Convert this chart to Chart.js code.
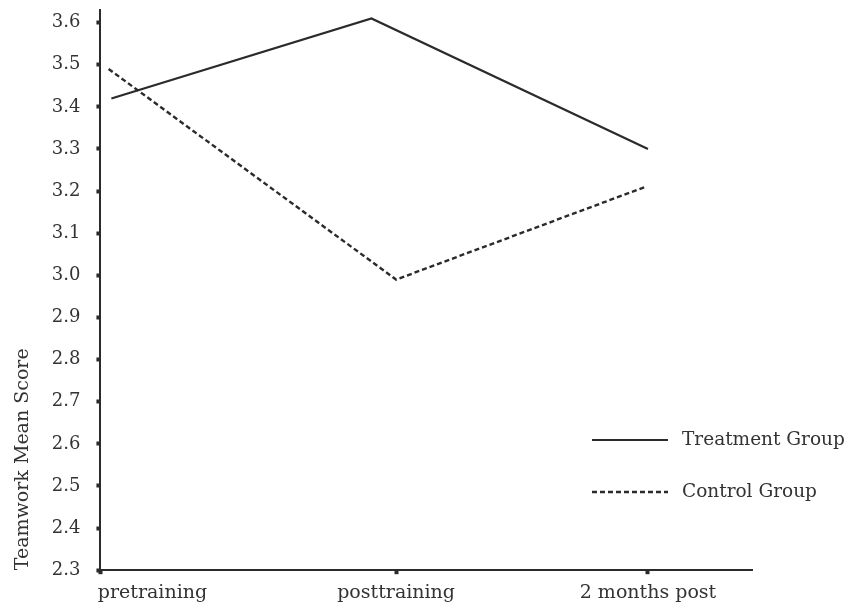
<!DOCTYPE html>
<html>
<head>
  <title>Teamwork Mean Score</title>
  <script src="https://cdn.jsdelivr.net/npm/chart.js"></script>
  <style>
    body {
      margin: 0;
      background: #fff;
    }
    canvas {
      display: block;
    }
  </style>
</head>
<body>
  <canvas id="teamChart" width="856" height="606"></canvas>

  <script>
    // categories and where they sit on the x axis (the drawing is not evenly spaced)
    const categories = ['pretraining', 'posttraining', '2 months post'];
    const categoryX = [0, 1.08, 2];
    const labelX = [0.19, 1.08, 2]; // first label starts flush with the y axis

    const treatmentX = [0.04, 0.99, 2.0];
    const treatment = [3.42, 3.61, 3.30];
    const controlX = [0.03, 1.08, 1.99];
    const control = [3.49, 2.99, 3.21];

    const yTicks = [2.3, 2.4, 2.5, 2.6, 2.7, 2.8, 2.9, 3.0, 3.1, 3.2, 3.3, 3.4, 3.5, 3.6];
    const yMin = 2.3, yTop = 3.63;

    const ink = '#2b2b2b';
    const serif = "'DejaVu Serif', serif";

    const pairs = (xs, ys) => xs.map((x, i) => ({ x: x, y: ys[i] }));

    // draws the legend off to the right, below the middle
    const sideLegend = {
      id: 'sideLegend',
      afterDraw(chart) {
        const ctx = chart.ctx;
        const rows = [440, 492];
        ctx.save();
        chart.data.datasets.forEach((ds, i) => {
          const y = rows[i];
          ctx.beginPath();
          ctx.setLineDash(ds.borderDash || []);
          ctx.lineWidth = ds.borderWidth;
          ctx.strokeStyle = ds.borderColor;
          ctx.moveTo(592, y);
          ctx.lineTo(668, y);
          ctx.stroke();
          ctx.setLineDash([]);
          ctx.fillStyle = '#333';
          ctx.font = '18.5px ' + serif;
          ctx.textBaseline = 'middle';
          ctx.fillText(ds.label, 682, y);
        });
        ctx.restore();
      }
    };

    const ctx = document.getElementById('teamChart').getContext('2d');
    const chart = new Chart(ctx, {
      type: 'line',
      data: {
        datasets: [{
          label: 'Treatment Group',
          data: pairs(treatmentX, treatment),
          borderColor: ink,
          borderWidth: 2.2,
          pointRadius: 0,
          tension: 0
        }, {
          label: 'Control Group',
          data: pairs(controlX, control),
          borderColor: ink,
          borderWidth: 2.4,
          borderDash: [5, 3],
          pointRadius: 0,
          tension: 0
        }]
      },
      options: {
        responsive: false,
        animation: false,
        layout: {
          padding: { top: 10, right: 104, left: 4, bottom: 3 }
        },
        plugins: {
          legend: { display: false },
          tooltip: { enabled: false }
        },
        scales: {
          x: {
            type: 'linear',
            position: 'bottom',
            weight: 0,
            min: 0,
            max: 2.38,
            afterBuildTicks: axis => {
              axis.ticks = categoryX.map(v => ({ value: v }));
            },
            ticks: { display: false },
            grid: {
              drawOnChartArea: false,
              tickLength: 4,
              tickWidth: 4,
              tickColor: ink
            },
            border: { color: ink, width: 2 }
          },
          xl: {
            type: 'linear',
            position: 'bottom',
            weight: 1,
            min: 0,
            max: 2.38,
            afterBuildTicks: axis => {
              axis.ticks = labelX.map(v => ({ value: v }));
            },
            ticks: {
              callback: (v, i) => categories[i],
              color: '#333',
              font: { family: serif, size: 19 },
              padding: -1,
              maxRotation: 0,
              autoSkip: false
            },
            grid: { display: false },
            border: { display: false }
          },
          y: {
            min: yMin,
            max: yTop,
            afterBuildTicks: axis => {
              axis.ticks = yTicks.map(v => ({ value: v }));
            },
            // the top label sits below the axis end, so no extra room is needed
            afterFit: axis => {
              axis.paddingTop = 0;
              axis.paddingBottom = 0;
            },
            ticks: {
              callback: v => v.toFixed(1),
              color: '#333',
              font: { family: serif, size: 18 },
              padding: 16
            },
            grid: {
              drawOnChartArea: false,
              tickLength: 4,
              tickWidth: 4,
              tickColor: ink
            },
            border: { color: ink, width: 2 },
            title: {
              display: true,
              text: 'Teamwork Mean Score',
              align: 'start',
              color: '#333',
              font: { family: serif, size: 19 },
              padding: { top: 8, bottom: 1 }
            }
          }
        }
      },
      plugins: [sideLegend]
    });
  </script>
</body>
</html>
